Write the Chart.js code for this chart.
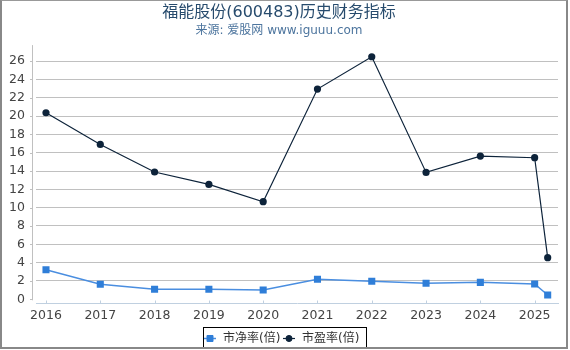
<!DOCTYPE html>
<html><head><meta charset="utf-8">
<script src="https://cdn.jsdelivr.net/npm/chart.js@4/dist/chart.umd.min.js"></script>
<style>
html,body{margin:0;padding:0;background:#fff;}
#wrap{position:relative;width:570px;height:350px;}
#frame{position:absolute;left:0;top:0;width:568px;height:349px;box-sizing:border-box;border-left:2px solid #888;border-top:1px solid #999;border-right:2px solid #888;border-bottom:2px solid #888;pointer-events:none;}
</style></head><body>
<div id="wrap"><canvas id="c" width="570" height="350"></canvas><div id="frame"></div></div>
<script>
const FONT = "'DejaVu Sans','Noto Sans CJK SC',sans-serif";
const titleText = '福能股份(600483)历史财务指标';
const subtitleText = '来源: 爱股网 www.iguuu.com';
const seriesNames = ['市净率(倍)', '市盈率(倍)'];
const years = [2016, 2017, 2018, 2019, 2020, 2021, 2022, 2023, 2024, 2025, 2025.24];
const pbValues = [3.23, 1.64, 1.09, 1.09, 1.01, 2.18, 1.96, 1.75, 1.85, 1.67, 0.47];
const peValues = [20.36, 16.90, 13.89, 12.54, 10.65, 22.94, 26.47, 13.85, 15.63, 15.45, 4.54];
const xTickYears = [2016, 2017, 2018, 2019, 2020, 2021, 2022, 2023, 2024, 2025];
const yTickValues = [0, 2, 4, 6, 8, 10, 12, 14, 16, 18, 20, 22, 24, 26];

const axesAndLegend = {
  id: 'axesAndLegend',
  afterDraw(chart) {
    const ctx = chart.ctx;
    const ca = chart.chartArea;
    const xs = chart.scales.x, ys = chart.scales.y;
    ctx.save();
    ctx.strokeStyle = '#c0c0c0';
    ctx.lineWidth = 1;
    const ax = Math.round(ca.left) - 3.5;
    ctx.beginPath();
    ctx.moveTo(ax, ca.top);
    ctx.lineTo(ax, ys.getPixelForValue(0) + 1);
    ctx.stroke();
    yTickValues.forEach(v => {
      const py = Math.round(ys.getPixelForValue(v)) + 0.5;
      ctx.beginPath();
      ctx.moveTo(ax - 2.5, py);
      ctx.lineTo(ax, py);
      ctx.stroke();
    });
    ctx.strokeStyle = '#c0d0e0';
    const ay = Math.round(ca.bottom) + 4.5;
    ctx.beginPath();
    ctx.moveTo(ca.left, ay);
    ctx.lineTo(ca.right + 1, ay);
    ctx.stroke();
    xTickYears.forEach(v => {
      const px = Math.round(xs.getPixelForValue(v)) + 0.5;
      ctx.beginPath();
      ctx.moveTo(px, ay - 3);
      ctx.lineTo(px, ay);
      ctx.stroke();
    });
    ctx.strokeStyle = '#000';
    ctx.lineWidth = 1;
    ctx.strokeRect(203.5, 327.5, 163, 20);
    const startX = [204, 283];
    chart.data.datasets.forEach((ds, i) => {
      const x0 = startX[i], yy = 338.5;
      ctx.strokeStyle = ds.borderColor;
      ctx.lineWidth = ds.borderWidth;
      ctx.beginPath();
      ctx.moveTo(x0, yy);
      ctx.lineTo(x0 + 12, yy);
      ctx.stroke();
      ctx.fillStyle = ds.pointBackgroundColor;
      ctx.strokeStyle = ds.pointBorderColor;
      ctx.lineWidth = 1;
      Chart.helpers.drawPoint(ctx, {pointStyle: ds.pointStyle, radius: ds.pointRadius * 0.85, borderWidth: 1, rotation: 0}, x0 + 6, yy);
      ctx.fillStyle = '#333';
      ctx.font = '12px ' + FONT;
      ctx.textBaseline = 'middle';
      ctx.textAlign = 'left';
      ctx.fillText(ds.label, x0 + 19, 339);
    });
    ctx.restore();
  }
};

new Chart(document.getElementById('c'), {
  type: 'line',
  data: {
    datasets: [
      {
        label: seriesNames[0],
        data: years.map((x, i) => ({x: x, y: pbValues[i]})),
        borderColor: '#4a8ee0',
        borderWidth: 1.5,
        pointStyle: 'rect',
        pointRadius: 5,
        pointBackgroundColor: '#2f7ed8',
        pointBorderColor: '#2f7ed8',
        pointBorderWidth: 0,
        tension: 0
      },
      {
        label: seriesNames[1],
        data: years.map((x, i) => ({x: x, y: peValues[i]})),
        borderColor: '#0d233a',
        borderWidth: 1.2,
        pointStyle: 'circle',
        pointRadius: 3.6,
        pointBackgroundColor: '#0d233a',
        pointBorderColor: '#0d233a',
        pointBorderWidth: 0,
        tension: 0
      }
    ]
  },
  options: {
    responsive: false,
    animation: false,
    layout: {padding: {left: 0, right: 12, top: 0, bottom: 23}},
    plugins: {
      legend: {display: false},
      tooltip: {enabled: false},
      title: {
        display: true, text: titleText, color: '#274b6d',
        font: {size: 16, family: FONT, weight: 'normal', lineHeight: 1.2},
        padding: {top: 3, bottom: 1.5}
      },
      subtitle: {
        display: true, text: subtitleText, color: '#4d759e',
        font: {size: 12, family: FONT, weight: 'normal', lineHeight: 1.2},
        padding: {top: 0, bottom: 7}
      }
    },
    scales: {
      x: {
        type: 'linear', position: 'bottom',
        min: 2015.816, max: 2025.43,
        afterBuildTicks: s => { s.ticks = xTickYears.map(v => ({value: v})); },
        afterFit: s => { s.height = 27.7; },
        grid: {display: false, drawTicks: false},
        border: {display: false},
        ticks: {
          callback: v => String(v), color: '#444', padding: 9,
          font: {size: 12.5, family: FONT}, maxRotation: 0, autoSkip: false
        }
      },
      y: {
        min: 0, max: 27.74,
        afterBuildTicks: s => { s.ticks = yTickValues.map(v => ({value: v})); },
        afterFit: s => { s.width = 36; },
        grid: {
          color: c => (c.tick && c.tick.value === 0) ? 'rgba(0,0,0,0)' : '#c0c0c0',
          drawTicks: false, lineWidth: 1
        },
        border: {display: false},
        ticks: {color: '#444', padding: 11, font: {size: 12.5, family: FONT}}
      }
    }
  },
  plugins: [axesAndLegend]
});
</script>
</body></html>
